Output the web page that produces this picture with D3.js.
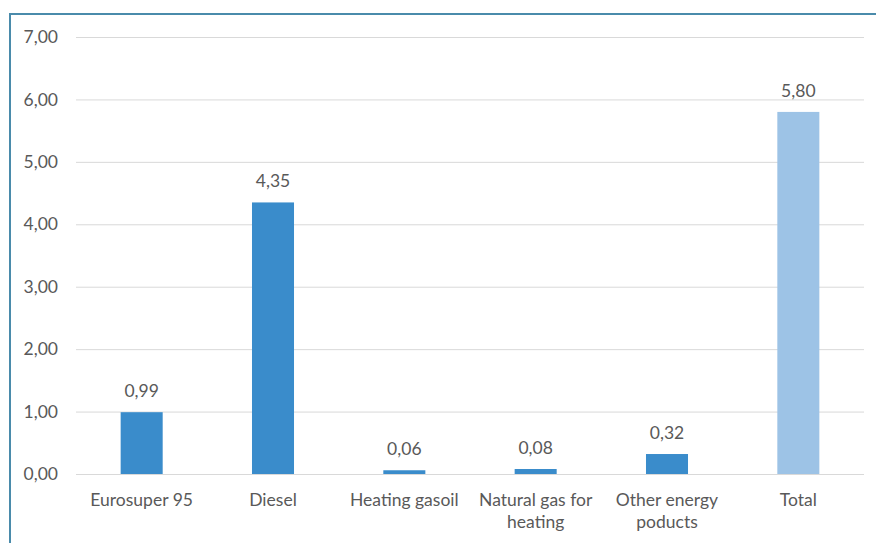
<!DOCTYPE html>
<html>
<head>
<meta charset="utf-8">
<script src="https://cdn.jsdelivr.net/npm/d3@7"></script>
<style>
  html, body { margin: 0; padding: 0; background: #fff; }
  svg { display: block; }
  text { font-family: Lato, "Open Sans", sans-serif; fill: #595959; }
</style>
</head>
<body>
<svg id="chart" width="876" height="543"></svg>
<script>
// Categories and values (billion EUR)
const categories = ["Eurosuper 95", "Diesel", "Heating gasoil", "Natural gas for heating", "Other energy poducts", "Total"];
const categoryLines = [["Eurosuper 95"], ["Diesel"], ["Heating gasoil"], ["Natural gas for", "heating"], ["Other energy", "poducts"], ["Total"]];
const values = [0.99, 4.35, 0.06, 0.08, 0.32, 5.80];
const yTicks = [0, 1, 2, 3, 4, 5, 6, 7];

const fmt = v => d3.format(".2f")(v).replace(".", ",");

const svg = d3.select("#chart");
const W = 876, H = 543;
const plot = { left: 76, right: 864, top: 37, bottom: 474 };
const FS = 17.5;

// chart frame (top and left edges)
svg.append("path")
  .attr("d", `M10,${H} L10,14 L${W},14`)
  .attr("fill", "none")
  .attr("stroke", "#4a8bab")
  .attr("stroke-width", 2);

const x = d3.scaleBand().domain(categories).range([plot.left, plot.right]).paddingInner(0.68).paddingOuter(0.34);
const y = d3.scaleLinear().domain([0, 7]).range([plot.bottom, plot.top]);

// gridlines
svg.append("g").selectAll("line").data(yTicks).join("line")
  .attr("x1", plot.left).attr("x2", plot.right)
  .attr("y1", d => y(d) + 0.5).attr("y2", d => y(d) + 0.5)
  .attr("stroke", "#d9d9d9").attr("stroke-width", 1);

// y-axis labels
const yAxis = d3.axisLeft(y).tickValues(yTicks).tickFormat(fmt).tickSize(0).tickPadding(0);
const yg = svg.append("g").attr("transform", `translate(${plot.left - 18},0)`).call(yAxis);
yg.select(".domain").remove();
yg.selectAll("text").attr("font-size", FS).attr("fill", "#595959").attr("font-family", "Lato, 'Open Sans', sans-serif");

// bars
svg.append("g").selectAll("rect").data(values).join("rect")
  .attr("x", (d, i) => x(categories[i]))
  .attr("width", x.bandwidth())
  .attr("y", d => y(d))
  .attr("height", d => y(0) - y(d))
  .attr("fill", (d, i) => i === categories.length - 1 ? "#9dc3e6" : "#3a8ccb");

// value labels
svg.append("g").selectAll("text").data(values).join("text")
  .attr("x", (d, i) => x(categories[i]) + x.bandwidth() / 2)
  .attr("y", d => y(d) - 15)
  .attr("text-anchor", "middle")
  .attr("font-size", FS)
  .text(d => fmt(d));

// category labels
const xg = svg.append("g");
categoryLines.forEach((lines, i) => {
  const cx = x(categories[i]) + x.bandwidth() / 2;
  const t = xg.append("text")
    .attr("x", cx)
    .attr("y", 506)
    .attr("text-anchor", "middle")
    .attr("font-size", FS);
  lines.forEach((ln, j) => {
    t.append("tspan").attr("x", cx).attr("dy", j === 0 ? 0 : 22).text(ln);
  });
});
</script>
</body>
</html>
